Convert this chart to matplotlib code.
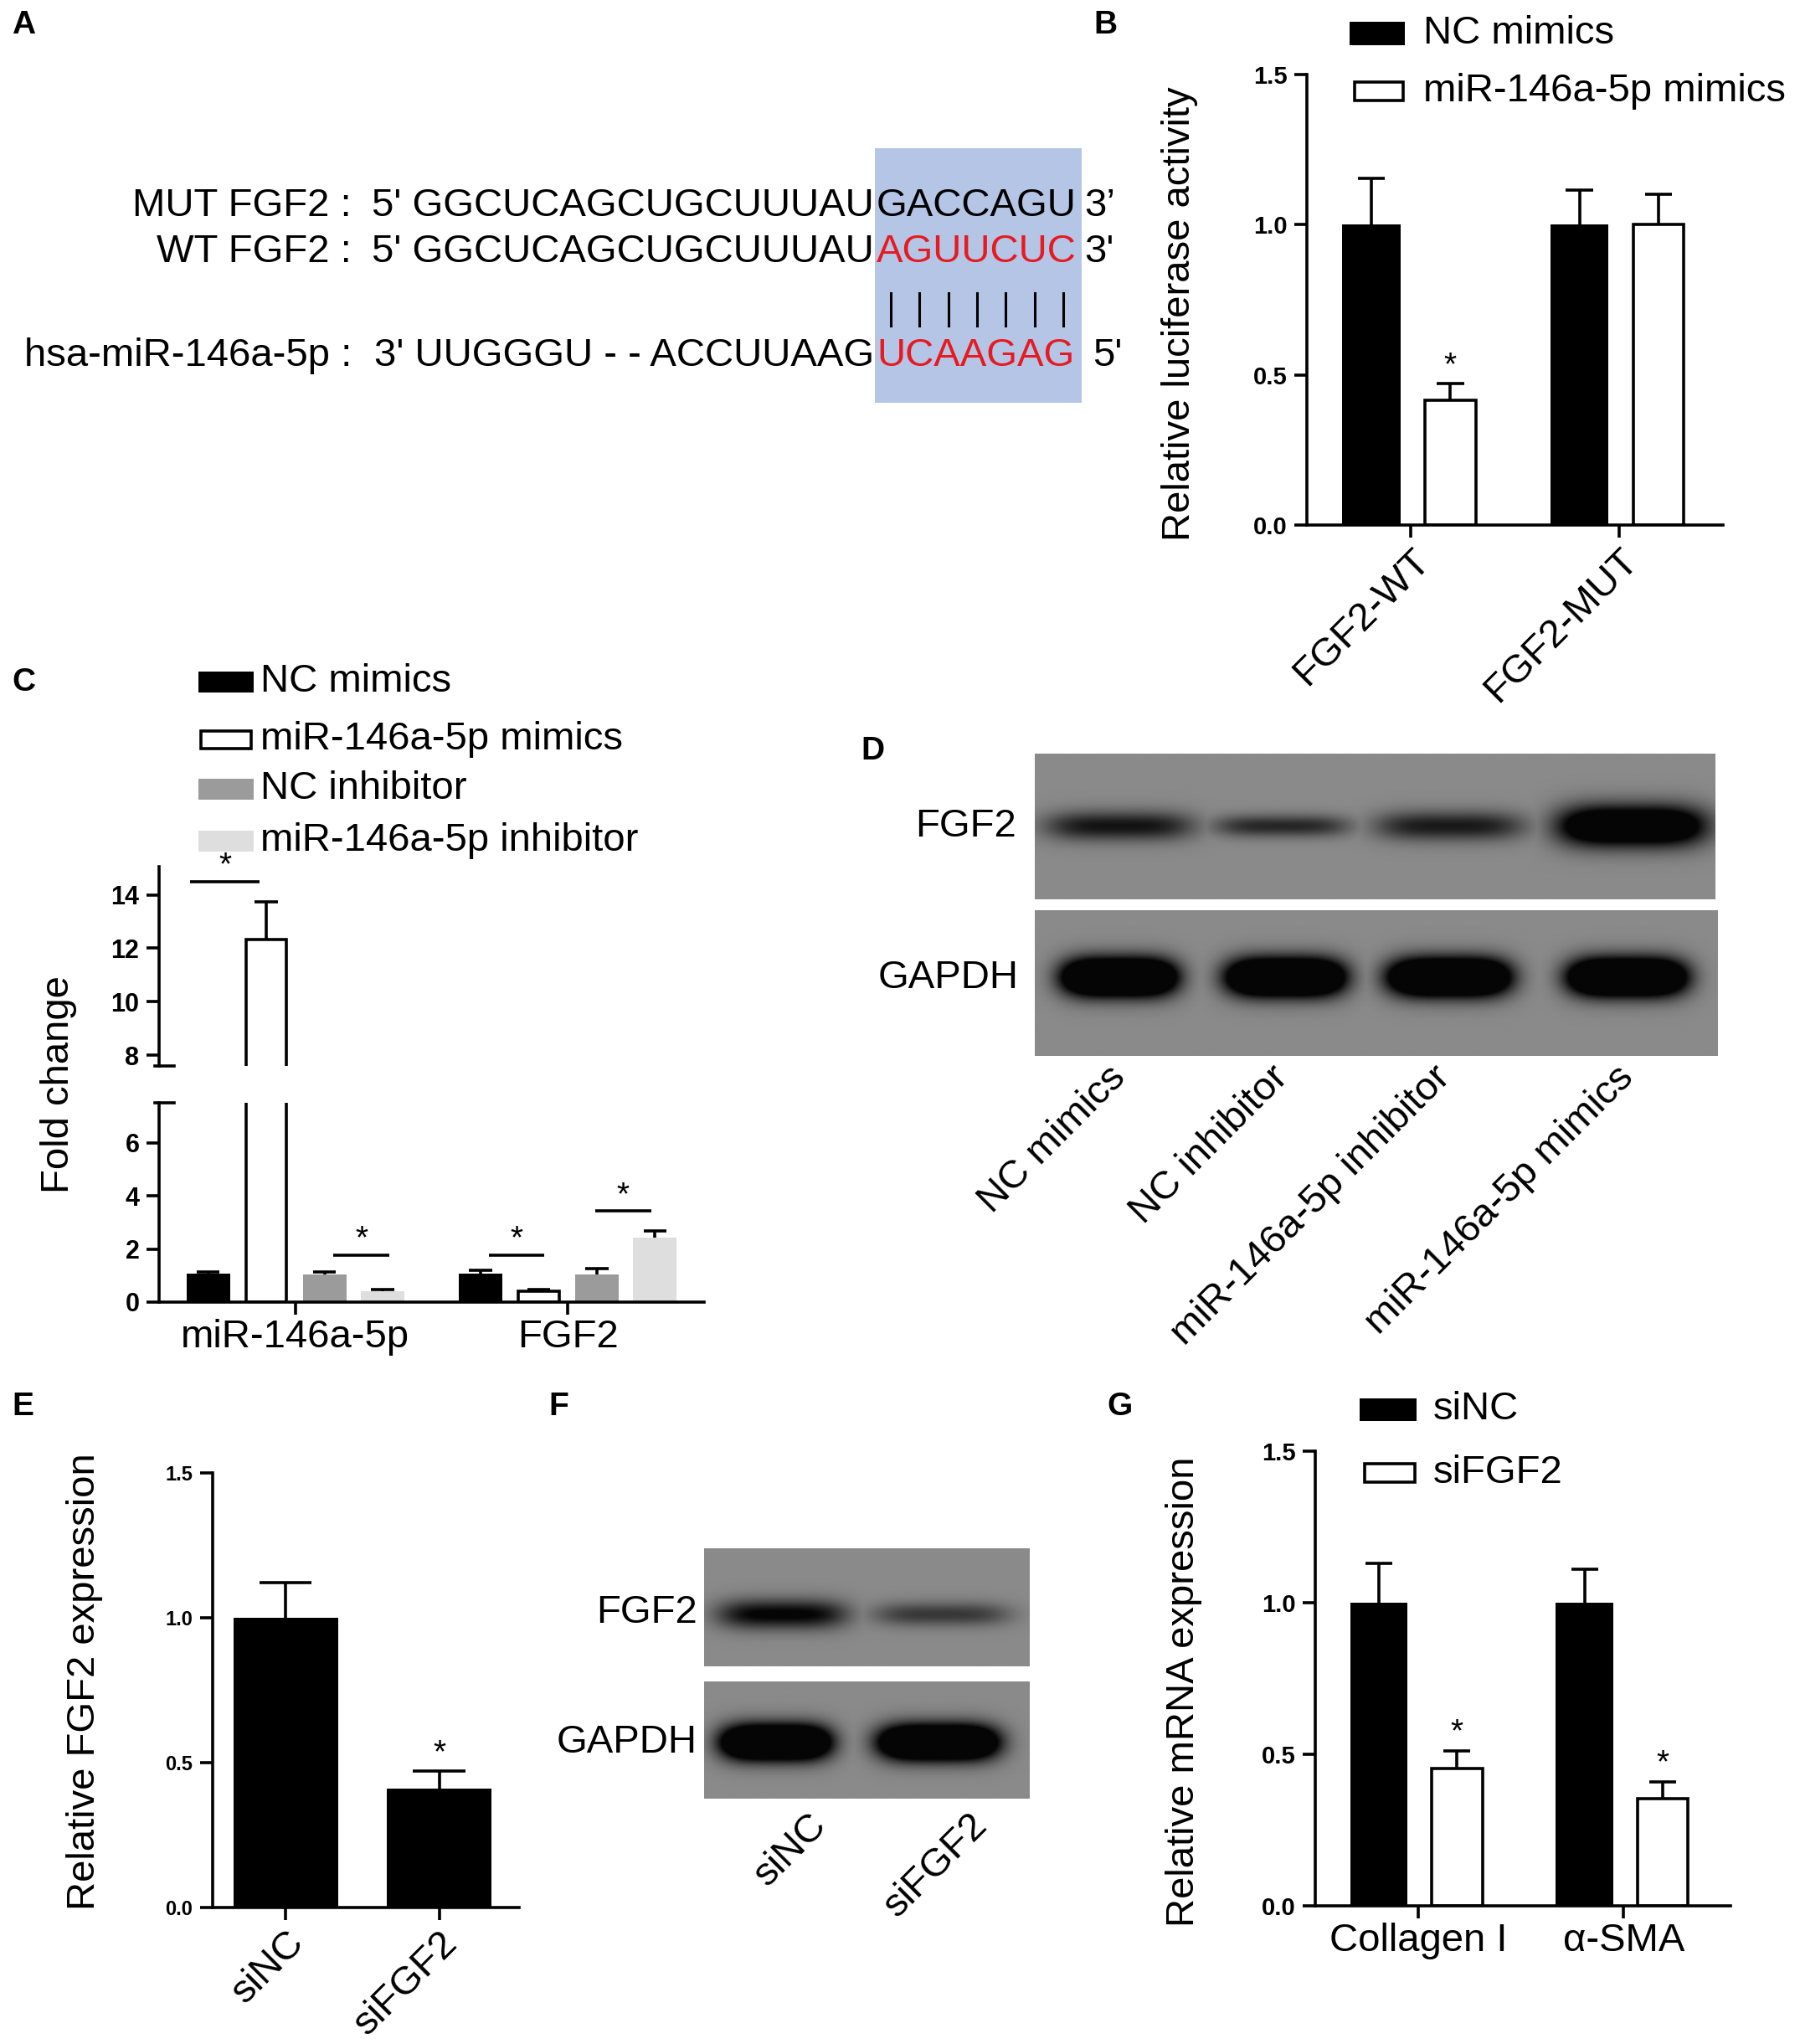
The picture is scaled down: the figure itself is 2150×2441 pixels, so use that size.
import numpy as np
import matplotlib
matplotlib.use('Agg')
import matplotlib.pyplot as plt
from matplotlib.patches import Rectangle
from matplotlib.lines import Line2D

plt.rcParams['font.family'] = ['Liberation Sans', 'DejaVu Sans']

W, H, DPI = 2150, 2441, 100
fig = plt.figure(figsize=(W / DPI, H / DPI), dpi=DPI)

# ----------------------------- data -----------------------------
# Panel A (sequences)
mut_label = 'MUT FGF2 :'
wt_label = 'WT FGF2 :'
mir_label = 'hsa-miR-146a-5p :'
mut_prefix = "5' GGCUCAGCUGCUUUAU"
mut_site = 'GACCAGU'
mut_end = "3\u2019"
wt_prefix = "5' GGCUCAGCUGCUUUAU"
wt_site = 'AGUUCUC'
wt_end = "3'"
mir_prefix = "3' UUGGGU - - ACCUUAAG"
mir_site = 'UCAAGAG'
mir_end = "5'"

# Panel B
B_groups = ['FGF2-WT', 'FGF2-MUT']
B_series = ['NC mimics', 'miR-146a-5p mimics']
B_nc = [1.00, 1.00]
B_nc_err = [0.155, 0.115]
B_mir = [0.415, 1.00]
B_mir_err = [0.055, 0.100]
B_mir_star = [True, False]

# Panel C
C_groups = ['miR-146a-5p', 'FGF2']
C_series = ['NC mimics', 'miR-146a-5p mimics', 'NC inhibitor', 'miR-146a-5p inhibitor']
C_nc_mimics = [1.07, 1.07]
C_nc_mimics_err = [0.07, 0.14]
C_mir_mimics = [12.33, 0.42]
C_mir_mimics_err = [1.39, 0.06]
C_nc_inh = [1.03, 1.03]
C_nc_inh_err = [0.09, 0.24]
C_mir_inh = [0.42, 2.42]
C_mir_inh_err = [0.05, 0.27]
C_sig_y = [14.5, 1.78, 1.78, 3.42]

# Panel D (western blot, relative band strength)
D_lanes = ['NC mimics', 'NC inhibitor', 'miR-146a-5p inhibitor', 'miR-146a-5p mimics']
D_rows = ['FGF2', 'GAPDH']
D_fgf2 = [0.90, 0.75, 0.85, 1.80]
D_gapdh = [2.5, 2.5, 2.5, 2.5]

# Panel E
E_groups = ['siNC', 'siFGF2']
E_vals = [1.00, 0.41]
E_err = [0.12, 0.06]
E_star = [False, True]

# Panel F (western blot)
F_lanes = ['siNC', 'siFGF2']
F_rows = ['FGF2', 'GAPDH']
F_fgf2 = [1.05, 0.62]
F_gapdh = [2.5, 2.5]

# Panel G
G_groups = ['Collagen I', '\u03b1-SMA']
G_series = ['siNC', 'siFGF2']
G_sinc = [1.00, 1.00]
G_sinc_err = [0.13, 0.11]
G_sifgf2 = [0.452, 0.353]
G_sifgf2_err = [0.058, 0.057]
G_star = [True, True]

# ----------------------------- helpers -----------------------------
FS = 34
LW = 2.6
GRAY = '#9b9b9b'
LGRAY = '#dedede'


def axes_px(l, t, r, b):
    return fig.add_axes([l / W, 1 - b / H, (r - l) / W, (b - t) / H])


def ftext(x, y, s, **kw):
    kw.setdefault('fontsize', FS)
    return fig.text(x / W, 1 - y / H, s, **kw)


def frect(x, yc, w, h, face, edge=None, lw=0):
    r = Rectangle((x / W, 1 - (yc + h / 2) / H), w / W, h / H, transform=fig.transFigure,
                  facecolor=face, edgecolor=edge if edge else face, linewidth=lw)
    fig.add_artist(r)


def style(ax, tick_fs=21):
    for s in ['top', 'right']:
        ax.spines[s].set_visible(False)
    for s in ['left', 'bottom']:
        ax.spines[s].set_linewidth(LW)
    ax.tick_params(axis='both', direction='out', length=11, width=LW, colors='black')
    ax.tick_params(axis='y', labelsize=tick_fs, pad=6)
    for lab in ax.get_yticklabels():
        lab.set_fontweight('bold')


def errbars(ax, x, y, e, capw):
    x = np.asarray(x, float); y = np.asarray(y, float); e = np.asarray(e, float)
    ax.vlines(x, y, y + e, colors='black', linewidth=LW, zorder=4)
    ax.hlines(y + e, x - capw / 2, x + capw / 2, colors='black', linewidth=LW, zorder=4)


def blot(ax, centers, widths, heights, yc, intens, bg=0.54):
    nx, ny = 500, 160
    X, Y = np.meshgrid(np.linspace(0, 1, nx), np.linspace(0, 1, ny))
    dark = np.zeros_like(X)
    for c, w, h, I in zip(centers, widths, heights, intens):
        p = np.exp(-np.abs((X - c) / (w / 2)) ** 4) * np.exp(-np.abs((Y - yc) / (h / 2)) ** 2)
        dark = np.maximum(dark, np.clip(I * p, 0, 1))
    img = bg * (1 - dark) + 0.02 * dark
    ax.imshow(img, cmap='gray', vmin=0, vmax=1, extent=(0, 1, 1, 0), aspect='auto',
              interpolation='bilinear')
    ax.set_xlim(0, 1); ax.set_ylim(1, 0)
    ax.set_xticks([]); ax.set_yticks([])
    for s in ax.spines.values():
        s.set_visible(False)


# ----------------------------- panel letters -----------------------------
for letter, (x, y) in {'A': (14, 30), 'B': (1306, 30), 'C': (14, 815), 'D': (1028, 897),
                       'E': (14, 1680), 'F': (655, 1680), 'G': (1322, 1680)}.items():
    ftext(x, y, letter, fontsize=28, fontweight='bold', va='center', ha='left')

# ----------------------------- Panel A -----------------------------
frect(1045, 329, 247, 304, '#b4c5e6')
cap_half = 0.358 * FS * DPI / 72
rows = [(241, mut_label, mut_prefix, mut_site, mut_end, 'black', 1295),
        (296, wt_label, wt_prefix, wt_site, wt_end, '#e8191f', 1295),
        (420, mir_label, mir_prefix, mir_site, mir_end, '#e8191f', 1305)]
for yc, lab, pre, site, end, col, xend in rows:
    yb = yc + cap_half
    ftext(420, yb, lab, ha='right', va='baseline')
    ftext(1044, yb, pre, ha='right', va='baseline')
    ftext(1047, yb, site, ha='left', va='baseline', color=col)
    ftext(xend, yb, end, ha='left', va='baseline')
for i in range(len(mir_site)):
    xc = 1047 + (i + 0.5) * 240 / len(mir_site)
    fig.add_artist(Line2D([xc / W, xc / W], [1 - 350 / H, 1 - 389 / H], transform=fig.transFigure,
                          color='black', linewidth=2.2))

# ----------------------------- Panel B -----------------------------
axB = axes_px(1561, 89, 2058, 627)
xB = np.arange(len(B_groups))
axB.bar(xB - 0.19, B_nc, 0.28, color='black', linewidth=0, zorder=2)
axB.bar(xB + 0.19, B_mir, 0.245, color='white', edgecolor='black', linewidth=LW, zorder=2)
errbars(axB, xB - 0.19, B_nc, B_nc_err, 0.13)
errbars(axB, xB + 0.19, B_mir, B_mir_err, 0.13)
for xi, yv, ev, st in zip(xB + 0.19, B_mir, B_mir_err, B_mir_star):
    if st:
        axB.text(xi, yv + ev + 0.01, '*', ha='center', va='bottom', fontsize=28)
axB.set_xlim(-0.5, 1.5); axB.set_ylim(0, 1.5)
axB.set_yticks([0, 0.5, 1.0, 1.5])
axB.set_yticklabels(['0.0', '0.5', '1.0', '1.5'])
axB.set_xticks(xB)
axB.set_xticklabels(B_groups, rotation=45, ha='right', rotation_mode='anchor', fontsize=FS)
style(axB)
ftext(1409, 375, 'Relative luciferase activity', rotation=90, ha='center', va='center')
frect(1612, 40, 66, 27, 'black')
frect(1618, 109, 58, 22, 'white', 'black', LW)
ftext(1700, 40, B_series[0], va='center', ha='left')
ftext(1700, 109, B_series[1], va='center', ha='left')

# ----------------------------- Panel C -----------------------------
axCu = axes_px(190, 1035, 841, 1273)
axCl = axes_px(190, 1317, 841, 1555)
xC = np.arange(len(C_groups))
offs = [-0.32, -0.107, 0.107, 0.32]
bw = 0.16
series_C = [(C_nc_mimics, C_nc_mimics_err, 'black', 'black', 0, bw),
            (C_mir_mimics, C_mir_mimics_err, 'white', 'black', LW, bw - 0.012),
            (C_nc_inh, C_nc_inh_err, GRAY, GRAY, 0, bw),
            (C_mir_inh, C_mir_inh_err, LGRAY, LGRAY, 0, bw)]
for ax in (axCu, axCl):
    for (vals, errs, fc, ec, lw, w), o in zip(series_C, offs):
        ax.bar(xC + o, vals, w, color=fc, edgecolor=ec, linewidth=lw, zorder=2)
        errbars(ax, xC + o, vals, errs, 0.085)
    ax.set_xlim(-0.5, 1.5)
axCl.set_ylim(0, 7.5)
axCu.set_ylim(7.6, 15.05)
axCl.set_yticks([0, 2, 4, 6])
axCu.set_yticks([8, 10, 12, 14])
axCl.set_xticks(xC)
axCl.set_xticklabels(C_groups, fontsize=FS)
style(axCl, 22)
style(axCu, 22)
axCu.spines['bottom'].set_visible(False)
axCu.tick_params(axis='x', bottom=False, labelbottom=False)
axCl.plot([-0.008, 0.028], [1, 1], transform=axCl.transAxes, clip_on=False, color='black', lw=LW)
axCu.plot([-0.008, 0.028], [0, 0], transform=axCu.transAxes, clip_on=False, color='black', lw=LW)
sig_spans = [(0, -0.385, -0.13), (0, 0.14, 0.345), (1, -0.29, -0.087), (1, 0.10, 0.307)]
for (g, a, b), yv in zip(sig_spans, C_sig_y):
    ax = axCu if yv > 7.5 else axCl
    ax.hlines(yv, g + a, g + b, colors='black', linewidth=LW, clip_on=False)
    ax.text(g + (a + b) / 2, yv, '*', ha='center', va='bottom', fontsize=28, clip_on=False)
ftext(70, 1295, 'Fold change', rotation=90, ha='center', va='center')
leg_rows = [(814, 'black', None, 0), (883, 'white', 'black', LW), (942, GRAY, None, 0), (1004, LGRAY, None, 0)]
for (yc, fc, ec, lw), lab in zip(leg_rows, C_series):
    if ec:
        frect(240, yc, 60, 21, fc, ec, lw)
    else:
        frect(237, yc, 66, 25, fc)
    ftext(311, yc, lab, va='center', ha='left')

# ----------------------------- Panel D -----------------------------
axD1 = axes_px(1236, 900, 2049, 1074)
axD2 = axes_px(1236, 1087, 2052, 1261)
blot(axD1, [0.124, 0.363, 0.610, 0.878], [0.22, 0.20, 0.22, 0.22], [0.20, 0.15, 0.20, 0.28], 0.50, D_fgf2)
blot(axD2, [0.123, 0.367, 0.607, 0.868], [0.17, 0.175, 0.18, 0.175], [0.26, 0.26, 0.26, 0.26], 0.46, D_gapdh)
ftext(1214, 987, D_rows[0], ha='right', va='center')
ftext(1217, 1168, D_rows[1], ha='right', va='center')
for xl, lab in zip([1322, 1516, 1710, 1929], D_lanes):
    ftext(xl, 1265, lab, rotation=45, ha='right', va='top', rotation_mode='anchor')

# ----------------------------- Panel E -----------------------------
axE = axes_px(254, 1759, 620, 2278)
xE = np.arange(len(E_groups))
axE.bar(xE, E_vals, 0.68, color='black', linewidth=0, zorder=2)
errbars(axE, xE, E_vals, E_err, 0.34)
for xi, yv, ev, st in zip(xE, E_vals, E_err, E_star):
    if st:
        axE.text(xi, yv + ev + 0.01, '*', ha='center', va='bottom', fontsize=28)
axE.set_xlim(-0.475, 1.52); axE.set_ylim(0, 1.5)
axE.set_yticks([0, 0.5, 1.0, 1.5])
axE.set_yticklabels(['0.0', '0.5', '1.0', '1.5'])
axE.set_xticks(xE)
axE.set_xticklabels(E_groups, rotation=45, ha='right', rotation_mode='anchor', fontsize=FS)
style(axE, 17)
ftext(101, 2008, 'Relative FGF2 expression', rotation=90, ha='center', va='center')

# ----------------------------- Panel F -----------------------------
axF1 = axes_px(841, 1849, 1230, 1990)
axF2 = axes_px(841, 2008, 1230, 2148)
blot(axF1, [0.24, 0.73], [0.40, 0.42], [0.25, 0.20], 0.56, F_fgf2)
blot(axF2, [0.22, 0.72], [0.34, 0.37], [0.30, 0.30], 0.52, F_gapdh)
ftext(833, 1926, F_rows[0], ha='right', va='center')
ftext(833, 2081, F_rows[1], ha='right', va='center')
for xl, lab in zip([965, 1157], F_lanes):
    ftext(xl, 2158, lab, rotation=45, ha='right', va='top', rotation_mode='anchor')

# ----------------------------- Panel G -----------------------------
axG = axes_px(1571, 1733, 2067, 2276)
xG = np.arange(len(G_groups))
axG.bar(xG - 0.19, G_sinc, 0.28, color='black', linewidth=0, zorder=2)
axG.bar(xG + 0.19, G_sifgf2, 0.245, color='white', edgecolor='black', linewidth=LW, zorder=2)
errbars(axG, xG - 0.19, G_sinc, G_sinc_err, 0.13)
errbars(axG, xG + 0.19, G_sifgf2, G_sifgf2_err, 0.13)
for xi, yv, ev, st in zip(xG + 0.19, G_sifgf2, G_sifgf2_err, G_star):
    if st:
        axG.text(xi, yv + ev + 0.01, '*', ha='center', va='bottom', fontsize=28)
axG.set_xlim(-0.5, 1.52); axG.set_ylim(0, 1.5)
axG.set_yticks([0, 0.5, 1.0, 1.5])
axG.set_yticklabels(['0.0', '0.5', '1.0', '1.5'])
axG.set_xticks(xG)
axG.set_xticklabels(G_groups, fontsize=FS)
style(axG)
ftext(1414, 2020, 'Relative mRNA expression', rotation=90, ha='center', va='center')
frect(1624, 1683, 68, 27, 'black')
frect(1630, 1759, 60, 22, 'white', 'black', LW)
ftext(1712, 1683, G_series[0], va='center', ha='left')
ftext(1712, 1759, G_series[1], va='center', ha='left')

fig.savefig('out.png', dpi=DPI)
